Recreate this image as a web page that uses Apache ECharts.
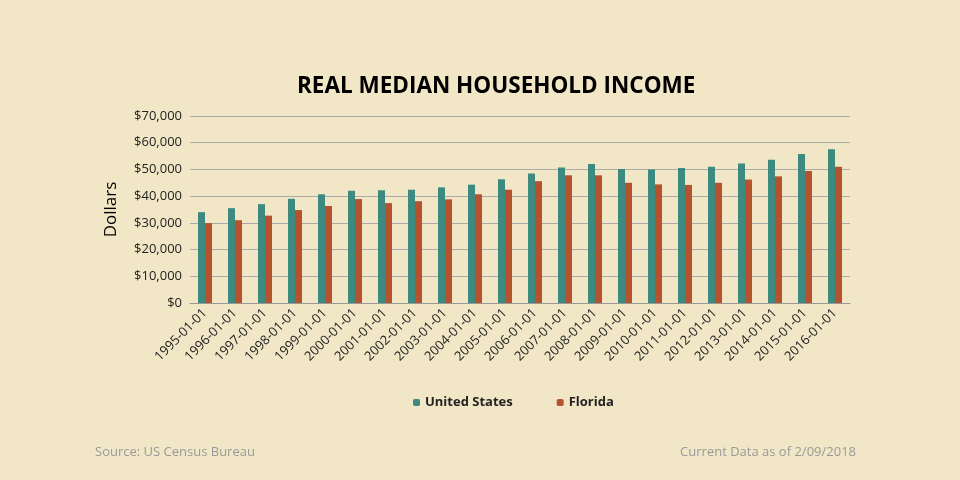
<!DOCTYPE html>
<html>
<head>
<meta charset="utf-8">
<script src="https://cdn.jsdelivr.net/npm/echarts@6/dist/echarts.min.js"></script>
<style>html,body{margin:0;padding:0;background:#f1e7c6;}#main{width:960px;height:480px;}</style>
</head>
<body>
<div id="main"></div>
<script>
var years = ['1995-01-01','1996-01-01','1997-01-01','1998-01-01','1999-01-01','2000-01-01','2001-01-01','2002-01-01','2003-01-01','2004-01-01','2005-01-01','2006-01-01','2007-01-01','2008-01-01','2009-01-01','2010-01-01','2011-01-01','2012-01-01','2013-01-01','2014-01-01','2015-01-01','2016-01-01'];
var usValues = [34000,35500,37000,39000,40700,42000,42200,42400,43300,44300,46300,48500,50700,52000,50200,50000,50500,51000,52200,53600,55800,57600];
var flValues = [29900,31000,32700,34800,36300,38900,37400,38100,38800,40700,42400,45600,47800,47800,45000,44400,44200,45000,46200,47400,49400,51000];

var chart = echarts.init(document.getElementById('main'));
var font = 'Open Sans';
chart.setOption({
    backgroundColor: '#f1e7c6',
    title: {
        text: 'REAL MEDIAN HOUSEHOLD INCOME',
        left: 292, top: 70,
        textStyle: {fontFamily: font, fontSize: 22.5, fontWeight: 'bold', color: '#000'}
    },
    legend: {
        left: 408, bottom: 66, itemWidth: 7, itemHeight: 7, itemGap: 44,
        textStyle: {fontFamily: font, fontSize: 13, fontWeight: 'bold', color: '#222'},
        data: ['United States', 'Florida']
    },
    graphic: [
        {type: 'text', left: 95, top: 446, style: {text: 'Source: US Census Bureau', fill: '#999', font: '13px "Open Sans"'}},
        {type: 'text', right: 104, top: 446, style: {text: 'Current Data as of 2/09/2018', fill: '#999', font: '13px "Open Sans"'}}
    ],
    grid: {left: 190, right: 110, top: 116, bottom: 177},
    xAxis: {
        type: 'category', data: years,
        axisTick: {show: false},
        axisLine: {lineStyle: {color: '#999'}},
        axisLabel: {rotate: 45, interval: 0, fontFamily: font, fontSize: 13, color: '#222', margin: 8}
    },
    yAxis: {
        type: 'value', min: 0, max: 70000, interval: 10000,
        name: 'Dollars', nameLocation: 'middle', nameGap: 70,
        nameTextStyle: {fontFamily: font, fontSize: 17, color: '#000'},
        axisLabel: {fontFamily: font, fontSize: 13, color: '#222', formatter: function (v) { return '$' + v.toLocaleString('en-US'); }},
        splitLine: {lineStyle: {color: '#aaa'}}
    },
    series: [
        {name: 'United States', type: 'bar', data: usValues, barWidth: 7, barGap: '0%', itemStyle: {color: '#3c8a80'}},
        {name: 'Florida', type: 'bar', data: flValues, barWidth: 7, itemStyle: {color: '#b5532e'}}
    ]
});
</script>
</body>
</html>
